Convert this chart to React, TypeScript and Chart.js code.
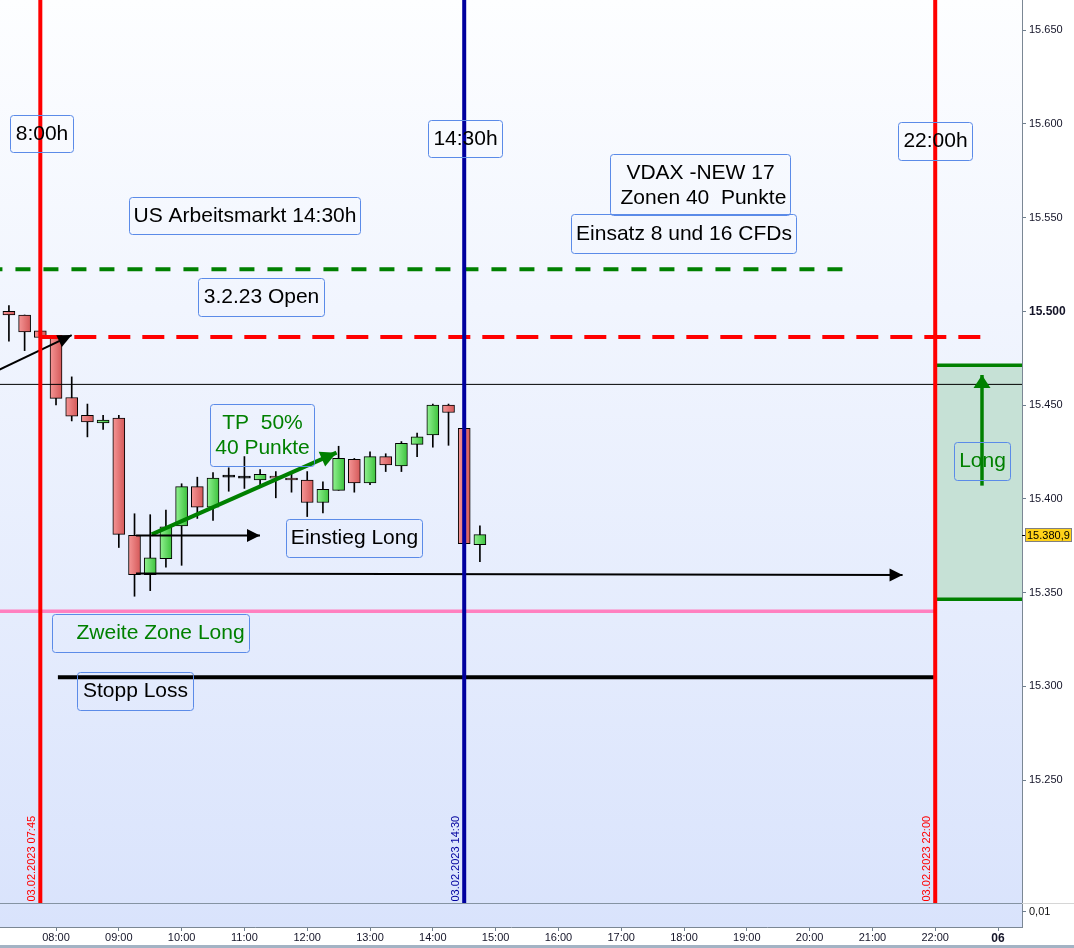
import { useEffect, useRef } from 'react';
import { Chart, registerables } from 'chart.js';

Chart.register(...registerables);

const FONT = "'Liberation Sans', Arial, sans-serif";
Chart.defaults.font.family = FONT;

// 15-minute candles, 03.02.2023
const TIMES = ['07:00', '07:15', '07:30', '07:45', '08:00', '08:15', '08:30', '08:45', '09:00', '09:15', '09:30', '09:45', '10:00', '10:15', '10:30', '10:45', '11:00', '11:15', '11:30', '11:45', '12:00', '12:15', '12:30', '12:45', '13:00', '13:15', '13:30', '13:45', '14:00', '14:15', '14:30', '14:45'];
const OPEN = [15495, 15500, 15498, 15489.5, 15486, 15454, 15444.5, 15440.5, 15443, 15380.5, 15359.5, 15368, 15385.5, 15406.5, 15395.5, 15411.5, 15411, 15410, 15412, 15411, 15410, 15398, 15404.5, 15421, 15408.5, 15422.5, 15417.5, 15429, 15434, 15450, 15437.5, 15375.5];
const HIGH = [15506, 15503, 15498, 15491, 15487, 15465, 15450.5, 15444.5, 15444.5, 15392, 15391.5, 15394, 15408, 15411.5, 15414, 15416.5, 15422.5, 15415.5, 15414.5, 15413.5, 15414.5, 15409, 15428, 15421.5, 15425, 15424, 15430.5, 15435, 15450.5, 15450.5, 15437.5, 15385.5];
const LOW = [15492, 15484, 15479, 15485, 15450, 15441.5, 15433, 15437, 15374, 15348, 15351, 15363.5, 15364.5, 15389.5, 15388.5, 15404, 15405.5, 15406.5, 15400.5, 15403.5, 15390.5, 15392.5, 15404.5, 15403.5, 15407.5, 15414.5, 15414.5, 15422.5, 15427.5, 15428.5, 15376, 15366.5];
const CLOSE = [15503, 15498, 15489, 15486, 15453.5, 15444, 15441, 15442, 15381, 15359.5, 15368.5, 15385, 15406.5, 15395.5, 15411, 15411.5, 15411, 15413, 15411, 15410, 15398, 15405, 15421.5, 15408.5, 15422.5, 15418, 15429.5, 15433, 15450, 15446, 15376, 15380.9];

const PRICE_TICKS = [15250, 15300, 15350, 15400, 15450, 15500, 15550, 15600, 15650];
const X_TICK_HOURS = [8, 9, 10, 11, 12, 13, 14, 15, 16, 17, 18, 19, 20, 21, 22, 23];
const X_TICK_LABELS = ['08:00', '09:00', '10:00', '11:00', '12:00', '13:00', '14:00', '15:00', '16:00', '17:00', '18:00', '19:00', '20:00', '21:00', '22:00', '06'];

// drawn price levels
const OPEN_LEVEL = 15522.4;
const ENTRY_LEVEL = 15486.3;
const REF_LEVEL = 15461;
const ZONE2_LEVEL = 15340;
const STOP_LEVEL = 15304.8;
const LONG_ZONE = [15346.4, 15471.2];

const EVENT_TIMES = ['07:45', '14:30', '22:00'];
const EVENT_LABELS = ['03.02.2023 07:45', '03.02.2023 14:30', '03.02.2023 22:00'];
const EVENT_COLORS = ['#ff0000', '#00009e', '#ff0000'];

const X_MIN = 7.108;
const X_MAX = 23.382;
const Y_MIN = 15171.6;
const Y_MAX = 15666;
const PANE_TOP = 15184.4;

const hours = (s: string) => {
  const [h, m] = s.split(':').map(Number);
  return h + m / 60;
};

const thousands = (v: number) => String(v).replace(/\B(?=(\d{3})+(?!\d))/g, '.');
const priceText = (v: number) => {
  const [i, d] = v.toFixed(1).split('.');
  return thousands(Number(i)) + ',' + d;
};

const NOTES = [
  { t: 7.268, p: 15604.7, w: 63, h: 37, lines: ['8:00h'], color: '#000' },
  { t: 13.924, p: 15602.0, w: 74, h: 37, lines: ['14:30h'], color: '#000' },
  { t: 21.408, p: 15600.9, w: 74, h: 38, lines: ['22:00h'], color: '#000' },
  { t: 9.162, p: 15560.9, w: 231, h: 37, lines: ['US Arbeitsmarkt 14:30h'], color: '#000' },
  { t: 16.822, p: 15583.9, w: 180, h: 61, lines: ['VDAX -NEW 17', ' Zonen 40  Punkte'], color: '#000' },
  { t: 16.2, p: 15551.9, w: 225, h: 39, lines: ['Einsatz 8 und 16 CFDs'], color: '#000' },
  { t: 10.261, p: 15517.7, w: 126, h: 38, lines: ['3.2.23 Open'], color: '#000' },
  { t: 10.452, p: 15450.5, w: 104, h: 62, lines: ['TP  50%', '40 Punkte'], color: '#008000' },
  { t: 11.662, p: 15389.2, w: 136, h: 38, lines: ['Einstieg Long'], color: '#000' },
  { t: 7.936, p: 15338.5, w: 197, h: 38, lines: ['Zweite Zone Long'], color: '#008000', indent: 24 },
  { t: 8.334, p: 15307.6, w: 116, h: 38, lines: ['Stopp Loss'], color: '#000' },
  { t: 22.3, p: 15430.3, w: 56, h: 38, lines: ['Long'], color: '#008000' },
];

const seg = (pts: number[][], color: string, width: number, dash: number[] = [], extra: any = {}) => ({
  type: 'line',
  data: pts.map(([x, y]) => ({ x, y })),
  borderColor: color,
  borderWidth: width,
  borderDash: dash,
  pointRadius: 0,
  pointHitRadius: 0,
  fill: false,
  tension: 0,
  order: 0,
  ...extra,
});

function arrowHead(ctx: CanvasRenderingContext2D, x1: number, y1: number, x2: number, y2: number, len: number, half: number, color: string) {
  const ang = Math.atan2(y2 - y1, x2 - x1);
  ctx.save();
  ctx.translate(x2, y2);
  ctx.rotate(ang);
  ctx.beginPath();
  ctx.moveTo(0, 0);
  ctx.lineTo(-len, -half);
  ctx.lineTo(-len, half);
  ctx.closePath();
  ctx.fillStyle = color;
  ctx.fill();
  ctx.restore();
}

const backgroundPlugin = {
  id: 'bg',
  beforeDraw(chart: any) {
    const { ctx, chartArea: a, width, height } = chart;
    ctx.save();
    ctx.fillStyle = '#ffffff';
    ctx.fillRect(0, 0, width, height);
    const g = ctx.createLinearGradient(0, a.top, 0, a.bottom);
    g.addColorStop(0, '#fdfeff');
    g.addColorStop(1, '#d9e3fc');
    ctx.fillStyle = g;
    ctx.fillRect(a.left, a.top, a.right - a.left, a.bottom - a.top);
    ctx.fillStyle = '#a3b3c4';
    ctx.fillRect(0, height - 3, width, 3);
    ctx.restore();
  },
  beforeDatasetsDraw(chart: any) {
    const { ctx, chartArea: a, scales } = chart;
    const x0 = scales.x.getPixelForValue(hours('22:00'));
    const y0 = scales.y.getPixelForValue(LONG_ZONE[1]);
    const y1 = scales.y.getPixelForValue(LONG_ZONE[0]);
    ctx.save();
    ctx.fillStyle = '#c6e1d6';
    ctx.fillRect(x0, y0, a.right - x0, y1 - y0);
    ctx.restore();
  },
};

const overlayPlugin = {
  id: 'overlay',
  afterDatasetsDraw(chart: any) {
    const { ctx, chartArea: a, scales, width } = chart;
    const xs = scales.x;
    const ys = scales.y;

    // arrow heads
    chart.data.datasets.forEach((ds: any, i: number) => {
      if (!ds.arrowHead) return;
      const pts = chart.getDatasetMeta(i).data;
      const p1 = pts[pts.length - 2];
      const p2 = pts[pts.length - 1];
      arrowHead(ctx, p1.x, p1.y, p2.x, p2.y, ds.arrowHead[0], ds.arrowHead[1], ds.borderColor);
    });

    // pane separator and its scale label
    const paneY = Math.round(ys.getPixelForValue(PANE_TOP)) + 0.5;
    ctx.save();
    ctx.lineWidth = 1;
    ctx.strokeStyle = '#8593a2';
    ctx.beginPath();
    ctx.moveTo(a.left, paneY);
    ctx.lineTo(a.right, paneY);
    ctx.stroke();
    ctx.strokeStyle = '#d6d6d6';
    ctx.beginPath();
    ctx.moveTo(a.right, paneY);
    ctx.lineTo(width, paneY);
    ctx.stroke();
    ctx.strokeStyle = '#6e7e8e';
    ctx.beginPath();
    ctx.moveTo(a.right, paneY + 8);
    ctx.lineTo(a.right + 4, paneY + 8);
    ctx.stroke();
    ctx.fillStyle = '#111';
    ctx.font = `11px ${FONT}`;
    ctx.textAlign = 'left';
    ctx.textBaseline = 'middle';
    ctx.fillText('0,01', a.right + 7, paneY + 8);

    // rotated date labels at event lines
    EVENT_TIMES.forEach((t, i) => {
      const px = xs.getPixelForValue(hours(t));
      ctx.save();
      ctx.translate(px - 8, paneY - 2);
      ctx.rotate(-Math.PI / 2);
      ctx.font = `11px ${FONT}`;
      ctx.fillStyle = EVENT_COLORS[i];
      ctx.textAlign = 'left';
      ctx.textBaseline = 'middle';
      ctx.fillText(EVENT_LABELS[i], 0, 0);
      ctx.restore();
    });

    // text boxes
    for (const n of NOTES) {
      const bx = Math.round(xs.getPixelForValue(n.t)) + 0.5;
      const by = Math.round(ys.getPixelForValue(n.p)) + 0.5;
      ctx.beginPath();
      ctx.roundRect(bx, by, n.w, n.h, 3);
      ctx.strokeStyle = '#5b8be8';
      ctx.lineWidth = 1;
      ctx.stroke();
      ctx.font = `21px ${FONT}`;
      ctx.fillStyle = n.color;
      ctx.textBaseline = 'middle';
      n.lines.forEach((s, i) => {
        const cy = by + (n.lines.length === 1 ? n.h / 2 : 19 + i * 24.5);
        if (n.indent) {
          ctx.textAlign = 'left';
          ctx.fillText(s, bx + n.indent, cy);
        } else {
          ctx.textAlign = 'center';
          ctx.fillText(s, bx + n.w / 2, cy);
        }
      });
    }

    // last price tag
    const last = CLOSE[CLOSE.length - 1];
    const py = Math.round(ys.getPixelForValue(last));
    ctx.fillStyle = '#ffd21a';
    ctx.fillRect(a.right + 3, py - 7, 47, 14);
    ctx.strokeStyle = '#808080';
    ctx.strokeRect(a.right + 3.5, py - 6.5, 46, 13);
    ctx.strokeStyle = '#000';
    ctx.beginPath();
    ctx.moveTo(a.right, py + 0.5);
    ctx.lineTo(a.right + 3, py + 0.5);
    ctx.stroke();
    ctx.fillStyle = '#000';
    ctx.font = `11px ${FONT}`;
    ctx.textAlign = 'left';
    ctx.textBaseline = 'middle';
    ctx.fillText(priceText(last), a.right + 5, py + 0.5);
    ctx.restore();
  },
};

const bodyFill = (c: any) => {
  const i = c.dataIndex;
  if (i == null || !c.chart.chartArea) return '#e07070';
  const o = OPEN[i];
  const cl = CLOSE[i];
  if (o === cl) return '#000';
  const px = c.chart.scales.x.getPixelForValue(hours(TIMES[i]));
  const g = c.chart.ctx.createLinearGradient(px - 6, 0, px + 6, 0);
  if (cl > o) {
    g.addColorStop(0, '#92f292');
    g.addColorStop(1, '#3cc23c');
  } else {
    g.addColorStop(0, '#f59696');
    g.addColorStop(1, '#d45858');
  }
  return g;
};

export default function App() {
  const canvasRef = useRef<HTMLCanvasElement>(null);

  useEffect(() => {
    document.body.style.margin = '0';
    const canvas = canvasRef.current!;

    const eventLines = EVENT_TIMES.map((t, i) =>
      seg([[hours(t), Y_MAX + 5], [hours(t), PANE_TOP]], EVENT_COLORS[i], 4),
    );

    const datasets: any[] = [
      ...eventLines,
      seg([[X_MIN - 0.2, OPEN_LEVEL], [20.53, OPEN_LEVEL]], '#008000', 4, [15, 13]),
      seg([[hours('07:45'), ENTRY_LEVEL], [22.76, ENTRY_LEVEL]], '#ff0000', 4, [22, 12]),
      seg([[X_MIN - 0.2, REF_LEVEL], [X_MAX + 0.2, REF_LEVEL]], '#000', 1),
      seg([[X_MIN - 0.2, ZONE2_LEVEL], [hours('22:00'), ZONE2_LEVEL]], '#ff80c0', 3.5),
      seg([[8.03, STOP_LEVEL], [hours('22:00'), STOP_LEVEL]], '#000', 4),
      seg([[hours('22:00'), LONG_ZONE[1]], [X_MAX + 0.2, LONG_ZONE[1]]], '#008000', 3.5),
      seg([[hours('22:00'), LONG_ZONE[0]], [X_MAX + 0.2, LONG_ZONE[0]]], '#008000', 3.5),
      // arrows
      seg([[7.0, 15467.3], [8.25, 15487.3]], '#000', 2, [], { arrowHead: [14, 6.5] }),
      seg([[9.274, 15380.4], [11.248, 15380.4]], '#000', 2, [], { arrowHead: [13, 6.5] }),
      seg([[9.274, 15360.2], [21.48, 15359.3]], '#000', 2, [], { arrowHead: [13, 6.5] }),
      seg([[9.524, 15381.0], [12.467, 15424.6]], '#008000', 4, [], { arrowHead: [16, 8] }),
      seg([[22.745, 15407], [22.745, 15466]], '#008000', 3.5, [], { arrowHead: [13, 8.5] }),
      {
        type: 'bar',
        label: 'body',
        data: TIMES.map((t, i) => ({ x: hours(t), y: [OPEN[i], CLOSE[i]] })),
        backgroundColor: bodyFill,
        borderColor: '#000',
        borderWidth: 1,
        borderSkipped: false,
        barThickness: 12,
        minBarLength: 2,
        grouped: false,
        order: 5,
      },
      {
        type: 'bar',
        label: 'wick',
        data: TIMES.map((t, i) => ({ x: hours(t), y: [LOW[i], HIGH[i]] })),
        backgroundColor: '#000',
        borderWidth: 0,
        barThickness: 1,
        grouped: false,
        order: 6,
      },
    ];

    const chart = new Chart(canvas, {
      type: 'bar',
      data: { datasets },
      options: {
        animation: false,
        responsive: false,
        events: [],
        layout: { padding: 0, autoPadding: false },
        plugins: { legend: { display: false }, tooltip: { enabled: false } },
        scales: {
          x: {
            type: 'linear',
            min: X_MIN,
            max: X_MAX,
            offset: false,
            afterBuildTicks: (s: any) => {
              s.ticks = X_TICK_HOURS.map((v) => ({ value: v }));
            },
            afterFit: (s: any) => {
              s.height = 21;
              s.paddingLeft = 0;
              s.paddingRight = 0;
            },
            grid: { drawOnChartArea: false, offset: false, tickLength: 4, color: '#6e7e8e' },
            border: { color: '#7b8794', width: 1 },
            ticks: {
              autoSkip: false,
              maxRotation: 0,
              padding: 0,
              color: '#141428',
              callback: (_v: any, i: number) => X_TICK_LABELS[i],
              font: (c: any) =>
                c.index === X_TICK_LABELS.length - 1 ? { size: 12, weight: 'bold' } : { size: 11 },
            },
          },
          y: {
            type: 'linear',
            position: 'right',
            min: Y_MIN,
            max: Y_MAX,
            afterBuildTicks: (s: any) => {
              s.ticks = PRICE_TICKS.map((v) => ({ value: v }));
            },
            afterFit: (s: any) => {
              s.width = 52;
              s.paddingTop = 0;
              s.paddingBottom = 0;
            },
            grid: { drawOnChartArea: false, tickLength: 4, color: '#6e7e8e' },
            border: { color: '#7b8794', width: 1 },
            ticks: {
              padding: 3,
              color: '#141428',
              callback: (v: any) => thousands(Number(v)),
              font: (c: any) =>
                c.tick && c.tick.value === 15500 ? { size: 12, weight: 'bold' } : { size: 11 },
            },
          },
        },
      } as any,
      plugins: [backgroundPlugin, overlayPlugin],
    } as any);

    return () => chart.destroy();
  }, []);

  return <canvas ref={canvasRef} width={1074} height={948} style={{ display: 'block' }} />;
}
